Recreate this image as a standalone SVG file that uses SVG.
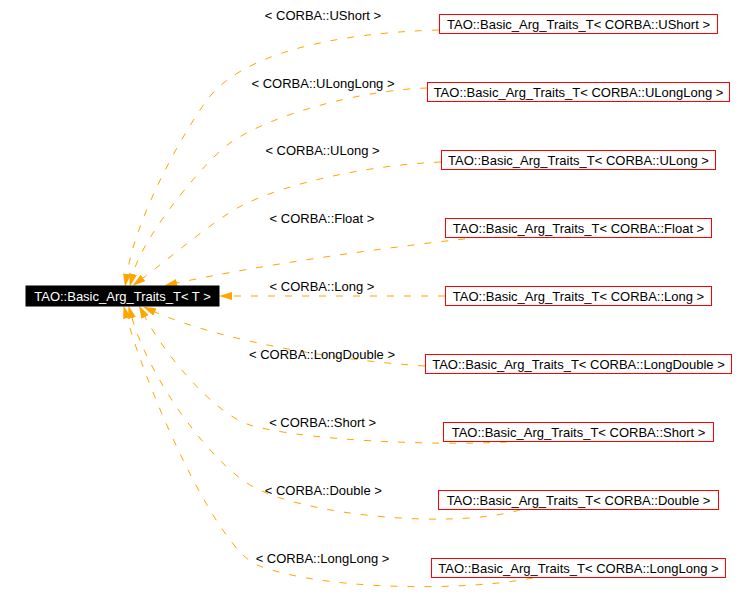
<svg xmlns="http://www.w3.org/2000/svg" width="756" height="609" viewBox="0 0 756 609">
<style>
text{font-family:"Liberation Sans",Arial,Helvetica,sans-serif;font-size:13px;fill:#000}
.node rect{fill:#fff;stroke:#ff0000;stroke-width:1}
.node text{text-anchor:middle}
#main rect{fill:#000;stroke:#000}
#main text{fill:#fff}
.edge{fill:none;stroke:#ffa500;stroke-width:1;stroke-dasharray:7,10;marker-end:url(#ah)}
.lbl{text-anchor:middle}
</style>
<defs>
<marker id="ah" markerUnits="userSpaceOnUse" markerWidth="13" markerHeight="8" viewBox="0 0 13 8" refX="0" refY="4" orient="auto">
<path d="M0,0 L13,4 L0,8 z" fill="#ffa500"/>
</marker>
</defs>
<rect width="756" height="609" fill="#fff"/>
<g id="connectors">
<path class="edge" d="M439,30 C330,33 240,55 207,100 C180.6,136 135,220 127,274"/>
<path class="edge" d="M427,88 C360,90 270,115 230,143 C206,160 143,235 133,274"/>
<path class="edge" d="M441,162 C370,165 290,182 243,205 C215,219 170,258 143,278"/>
<path class="edge" d="M482,237 C380,248 260,265 177,283"/>
<path class="edge" d="M445,296 L232,296"/>
<path class="edge" d="M425,366 C330,360 220,340 155,312"/>
<path class="edge" d="M507,442 C430,446 300,440 250,425 C215,414.5 165,355 145,317"/>
<path class="edge" d="M520,510 C450,530 300,515 250,485 C210,461 150,380 132,318"/>
<path class="edge" d="M533,578 C460,592 320,590 257,565 C219,550 150,400 127,318"/>
<text class="lbl" x="323" y="19.6">&lt; CORBA::UShort &gt;</text>
<text class="lbl" x="323" y="87.6">&lt; CORBA::ULongLong &gt;</text>
<text class="lbl" x="322.5" y="155.3">&lt; CORBA::ULong &gt;</text>
<text class="lbl" x="322" y="223.3">&lt; CORBA::Float &gt;</text>
<text class="lbl" x="322" y="291.3">&lt; CORBA::Long &gt;</text>
<text class="lbl" x="322" y="359">&lt; CORBA::LongDouble &gt;</text>
<text class="lbl" x="322.6" y="427.3">&lt; CORBA::Short &gt;</text>
<text class="lbl" x="323.3" y="495.3">&lt; CORBA::Double &gt;</text>
<text class="lbl" x="322.5" y="563.3">&lt; CORBA::LongLong &gt;</text>
</g>
<g id="main" class="node"><rect x="26" y="286" width="193" height="20"/><text x="122.5" y="300.5">TAO::Basic_Arg_Traits_T&lt; T &gt;</text></g>
<g id="n_ushort" class="node"><rect x="439.5" y="14.5" width="278" height="19"/><text x="578.5" y="28.5">TAO::Basic_Arg_Traits_T&lt; CORBA::UShort &gt;</text></g>
<g id="n_ulonglong" class="node"><rect x="427.5" y="82.5" width="302" height="19"/><text x="578.5" y="96.5">TAO::Basic_Arg_Traits_T&lt; CORBA::ULongLong &gt;</text></g>
<g id="n_ulong" class="node"><rect x="441.5" y="150.5" width="274" height="19"/><text x="578.5" y="164.5">TAO::Basic_Arg_Traits_T&lt; CORBA::ULong &gt;</text></g>
<g id="n_float" class="node"><rect x="445.5" y="218.5" width="266" height="19"/><text x="578.5" y="232.5">TAO::Basic_Arg_Traits_T&lt; CORBA::Float &gt;</text></g>
<g id="n_long" class="node"><rect x="445.5" y="286.5" width="266" height="19"/><text x="578.5" y="300.5">TAO::Basic_Arg_Traits_T&lt; CORBA::Long &gt;</text></g>
<g id="n_longdouble" class="node"><rect x="425.5" y="354.5" width="306" height="19"/><text x="578.5" y="368.5">TAO::Basic_Arg_Traits_T&lt; CORBA::LongDouble &gt;</text></g>
<g id="n_short" class="node"><rect x="443.5" y="422.5" width="270" height="19"/><text x="578.5" y="436.5">TAO::Basic_Arg_Traits_T&lt; CORBA::Short &gt;</text></g>
<g id="n_double" class="node"><rect x="438.5" y="490.5" width="280" height="19"/><text x="578.5" y="504.5">TAO::Basic_Arg_Traits_T&lt; CORBA::Double &gt;</text></g>
<g id="n_longlong" class="node"><rect x="431.5" y="558.5" width="294" height="19"/><text x="578.5" y="572.5">TAO::Basic_Arg_Traits_T&lt; CORBA::LongLong &gt;</text></g>
</svg>
